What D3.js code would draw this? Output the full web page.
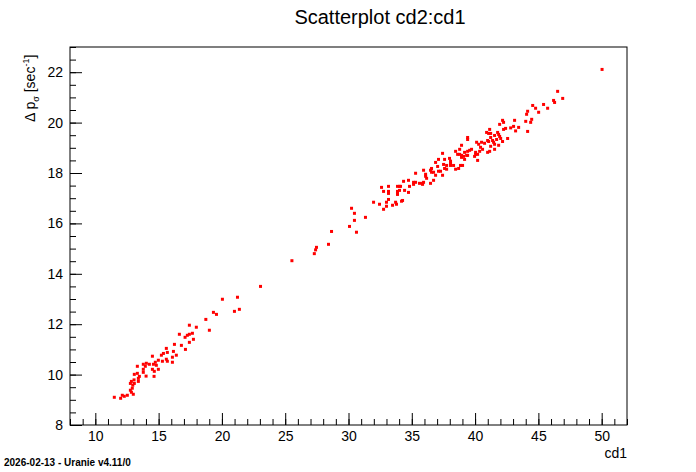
<!DOCTYPE html><html><head><meta charset="utf-8"><script src="https://cdn.jsdelivr.net/npm/d3@7"></script>
<style>body{margin:0;background:#fff}text{font-family:"Liberation Sans",Arial,sans-serif}</style></head><body><svg id="c" width="696" height="472"></svg><script>
const xTicks=[10,15,20,25,30,35,40,45,50];
const yTicks=[8,10,12,14,16,18,20,22];
const cd1=[25.53,23.05,21.23,20.04,20.99,21.38,19.33,19.57,18.73,19.01,17.43,17.98,16.64,17.27,17.43,17.67,17.09,17.75,17.43,16.25,16.80,17.12,15.61,16.17,15.69,15.38,15.22,16.40,14.51,16.09,14.98,15.61,15.30,15.69,16.09,14.74,14.03,13.79,14.27,14.59,14.82,13.95,13.32,13.79,14.51,14.98,14.66,13.32,13.79,13.08,14.01,14.64,13.48,13.40,13.06,12.85,13.40,12.77,13.08,12.96,12.92,12.77,12.85,13.00,12.53,12.13,12.29,12.00,11.50,
50.03,46.52,46.92,46.2,46.28,45.41,45.73,44.55,44.78,45.02,44.15,44.07,44.47,44.39,44.0,43.12,42.17,42.25,41.94,43.04,43.44,42.81,42.41,42.25,43.20,44.15,41.15,40.91,41.07,41.23,41.78,41.86,41.54,41.94,42.02,41.23,42.57,39.41,39.41,40.99,41.07,41.38,41.46,41.70,42.17,40.12,40.51,40.75,40.28,41.54,41.86,41.23,40.43,40.59,38.93,38.78,38.46,39.72,39.57,41.54,40.36,39.41,39.17,40.99,41.15,40.04,40.20,40.04,38.62,38.78,38.93,39.09,39.33,39.41,39.96,39.17,38.93,37.43,37.11,37.59,37.98,38.06,40.20,36.88,37.51,37.75,38.06,38.06,38.85,39.01,38.30,37.04,36.56,36.48,37.59,37.75,38.46,38.70,35.93,37.11,37.27,36.72,36.56,36.09,36.09,36.17,36.88,37.43,35.30,36.72,34.74,34.35,35.14,35.30,35.61,35.85,35.93,36.48,35.14,35.85,34.82,33.87,34.03,34.11,33.16,32.61,34.43,34.03,33.87,32.77,33.16,33.16,33.87,33.87,34.74,33.16,34.27,34.19,33.72,33.79,33.0,33.0,31.98,32.45,33.48,32.77,30.24,30.47,31.34,30.47,30.08,30.63,28.66,28.42,27.47,27.3,27.4];
const cd2=[14.52,13.50,13.07,12.99,12.51,12.59,12.47,12.39,12.19,11.76,11.96,11.88,11.60,11.56,11.60,11.64,11.48,11.40,11.28,11.20,11.16,11.00,11.04,10.92,10.88,10.84,10.77,10.77,10.73,10.69,10.57,10.61,10.53,10.53,10.49,10.49,10.45,10.41,10.41,10.41,10.37,10.33,10.33,10.21,10.21,10.21,10.13,10.05,10.09,10.01,9.94,9.93,9.93,9.85,9.79,9.73,9.73,9.65,9.65,9.58,9.46,9.38,9.30,9.22,9.18,9.18,9.14,9.06,9.10,
22.11,21.24,20.96,20.88,20.80,20.72,20.57,20.68,20.57,20.41,20.45,20.33,20.13,20.01,20.05,20.09,20.09,20.01,19.93,19.85,19.81,19.79,19.77,19.73,19.67,19.65,19.73,19.61,19.57,19.57,19.61,19.53,19.49,19.45,19.37,19.41,19.37,19.41,19.33,19.29,19.25,19.29,19.22,19.33,19.25,19.22,19.22,19.18,19.14,19.14,19.10,19.06,19.02,18.94,19.10,18.94,18.86,18.94,18.90,18.94,18.86,18.86,18.82,18.82,18.86,18.82,18.74,18.74,18.74,18.74,18.70,18.66,18.70,18.70,18.66,18.54,18.62,18.78,18.54,18.54,18.58,18.47,18.50,18.42,18.34,18.30,18.38,18.30,18.30,18.30,18.30,18.26,18.18,18.11,18.18,18.15,18.15,18.18,18.11,18.07,18.07,18.03,18.03,17.95,17.87,17.79,17.91,17.91,17.99,17.71,17.71,17.67,17.63,17.63,17.59,17.59,17.63,17.59,17.55,17.55,17.47,17.47,17.47,17.47,17.47,17.43,17.31,17.31,17.27,17.27,17.27,17.19,17.19,17.15,17.23,16.95,16.91,16.88,16.84,16.76,16.84,16.68,16.84,16.76,16.72,16.56,16.60,16.40,16.24,16.12,15.88,15.65,15.68,15.17,15.05,14.80,14.95];
const svg=d3.select("#c");
const L=70,R=627,T=47,B=425;
const x=d3.scaleLinear().domain([8,52]).range([L,R]);
const y=d3.scaleLinear().domain([8,23]).range([B,T]);
svg.append("rect").attr("x",L).attr("y",T).attr("width",R-L).attr("height",B-T).attr("fill","none").attr("stroke","#000");
const gx=svg.append("g").attr("transform",`translate(0,${B})`);
gx.call(d3.axisBottom(x).tickValues(d3.range(8,53,1)).tickSize(-6).tickFormat(""));
gx.select(".domain").remove();
const gx2=svg.append("g").attr("transform",`translate(0,${B})`);
gx2.call(d3.axisBottom(x).tickValues(xTicks).tickSize(-12).tickPadding(6).tickFormat(d3.format("d")));
gx2.select(".domain").remove();
const gy=svg.append("g").attr("transform",`translate(${L},0)`);
gy.call(d3.axisLeft(y).tickValues(d3.range(8,23.01,0.5)).tickSize(-6).tickFormat(""));
gy.select(".domain").remove();
const gy2=svg.append("g").attr("transform",`translate(${L},0)`);
gy2.call(d3.axisLeft(y).tickValues(yTicks).tickSize(-12).tickPadding(7).tickFormat(d3.format("d")));
gy2.select(".domain").remove();
svg.selectAll(".tick text").attr("font-size",14).attr("fill","#000").attr("font-family","Liberation Sans, Arial");
svg.selectAll(".tick line").attr("stroke","#000");
svg.append("g").selectAll("rect.p").data(cd1).join("rect").attr("x",(d,i)=>x(d)-1.5).attr("y",(d,i)=>y(cd2[i])-1.5).attr("width",3).attr("height",3).attr("fill","#f00");
svg.append("text").attr("x",380).attr("y",24).attr("text-anchor","middle").attr("font-size",20).text("Scatterplot cd2:cd1");
svg.append("text").attr("x",627).attr("y",458).attr("text-anchor","end").attr("font-size",14).text("cd1");
const yl=svg.append("text").attr("transform","translate(35,122) rotate(-90)").attr("text-anchor","start").attr("font-size",14);
yl.append("tspan").text("Δ p");
yl.append("tspan").attr("font-size",9).attr("dy",4).text("σ");
yl.append("tspan").attr("dy",-4).text(" [sec");
yl.append("tspan").attr("font-size",9).attr("dy",-6).text("-1");
yl.append("tspan").attr("dy",6).text("]");
svg.append("text").attr("x",4).attr("y",466).attr("font-size",10).attr("font-weight","bold").text("2026-02-13 - Uranie v4.11/0");
</script></body></html>
